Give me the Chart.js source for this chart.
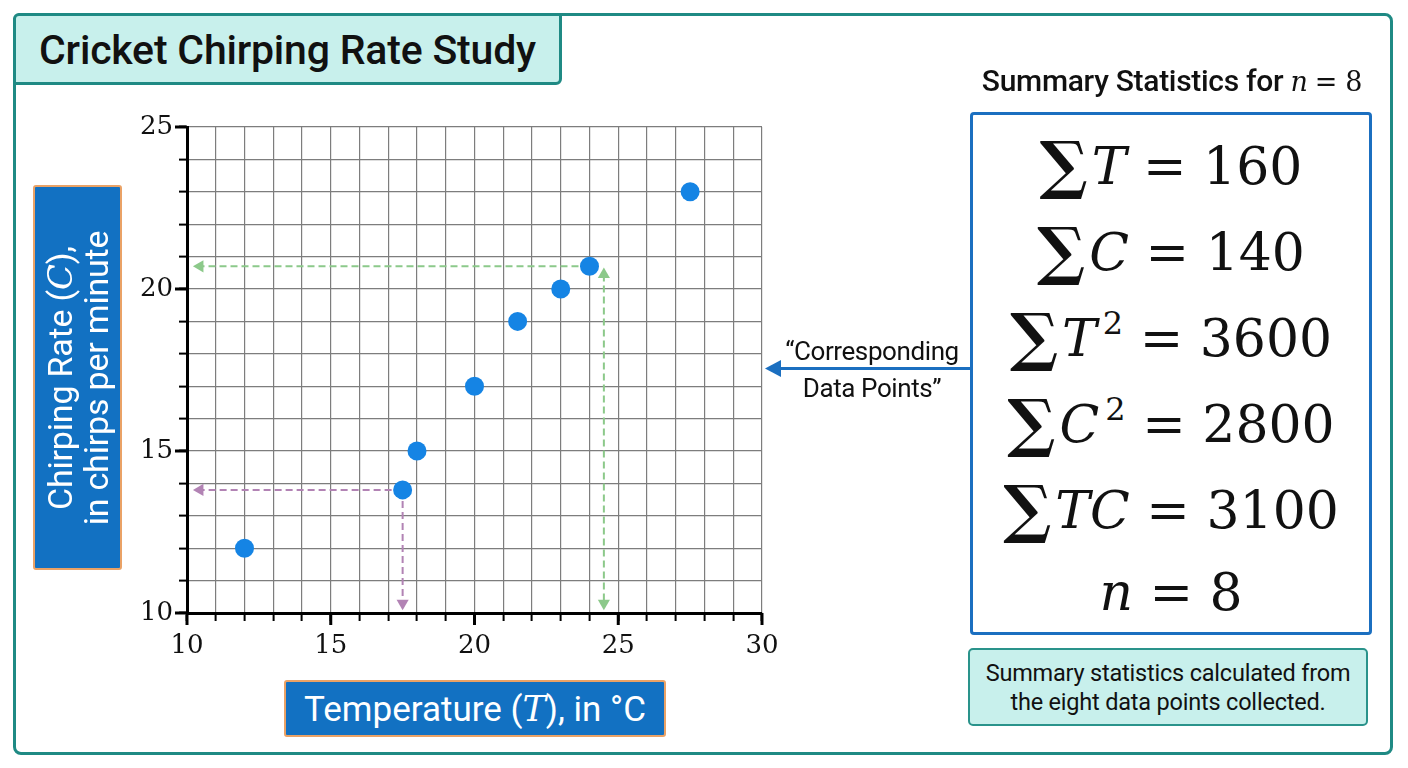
<!DOCTYPE html>
<html>
<head>
<meta charset="utf-8">
<script src="https://cdn.jsdelivr.net/npm/chart.js@4.4.1/dist/chart.umd.min.js"></script>
<style>
  html, body { margin: 0; padding: 0; background: #ffffff; }
  body { width: 1408px; height: 768px; position: relative; overflow: hidden; font-family: Roboto, "Noto Sans", sans-serif; }
  #frame { position: absolute; left: 13px; top: 13px; width: 1374px; height: 736px; border: 3px solid #1f8a84; border-radius: 8px; }
  #title { position: absolute; left: 13px; top: 13px; width: 543px; height: 66px; background: #c8f0ec; border: 3px solid #1f8a84; border-radius: 6px 0 6px 0;
           font-size: 41px; font-weight: 500; color: #111; line-height: 68px; text-align: center; white-space: nowrap; letter-spacing: -0.2px; }
  #chartWrap { position: absolute; left: 0; top: 0; width: 1408px; height: 768px; }
  #ylab { position: absolute; left: 33px; top: 185px; width: 85px; height: 381px; background: #1271c2; border: 2px solid #eaa266; border-radius: 3px; }
  #ylab div { position: absolute; left: 50%; top: 50%; width: 381px; transform: translate(-50%, -50%) rotate(-90deg);
              color: #fff; font-size: 34px; line-height: 36px; text-align: center; white-space: nowrap; letter-spacing: -0.2px; }
  #xlab { position: absolute; left: 284px; top: 680px; width: 378px; height: 53px; background: #1271c2; border: 2px solid #eaa266; border-radius: 3px;
          color: #fff; font-size: 35px; line-height: 55px; text-align: center; white-space: nowrap; }
  .m { font-family: "DejaVu Serif", "Liberation Serif", serif; font-style: italic; }
  #sumHead { position: absolute; left: 940px; top: 63px; width: 464px; text-align: center; font-size: 30px; font-weight: 500; color: #111; white-space: nowrap; letter-spacing: -0.3px; }
  #sumHead .m { font-weight: normal; font-size: 27px; }
  #sumHead .r { font-family: "DejaVu Serif", serif; font-weight: normal; font-size: 27px; }
  #sumBox { position: absolute; left: 970px; top: 112px; width: 396px; height: 517px; border: 3px solid #1b6fc0; border-radius: 4px; background: #fff;
            box-sizing: content-box; }
  .eq { position: absolute; left: 0; width: 396px; text-align: center; font-family: "DejaVu Serif", "Liberation Serif", serif; font-size: 52px; color: #111;
        white-space: nowrap; line-height: 80px; height: 80px; }
  .eq .sig { font-style: normal; font-size: 64px; position: relative; top: 3px; margin-right: 4px; font-weight: bold; }
  .eq i { font-style: italic; }
  .eq sup { font-size: 32px; vertical-align: 0; position: relative; top: -22px; margin-left: 6px; }
  #note { position: absolute; left: 968px; top: 648px; width: 396px; height: 74px; background: #c8f0ec; border: 2px solid #2a938b; border-radius: 5px;
          font-size: 23.5px; line-height: 29px; text-align: center; color: #111; box-sizing: content-box; white-space: nowrap; letter-spacing: -0.2px; }
  #note div { padding-top: 9px; }
  #corr { position: absolute; left: 762px; top: 333px; width: 220px; text-align: center; font-size: 26px; line-height: 37px; color: #111; white-space: nowrap; letter-spacing: -0.4px; }
  #arrow { position: absolute; left: 0; top: 0; }
</style>
</head>
<body>
<div id="frame"></div>
<div id="title">Cricket Chirping Rate Study</div>

<div id="chartWrap"><canvas id="scatter_graph" width="1408" height="768"></canvas></div>

<div id="ylab"><div>Chirping Rate (<span class="m">C</span>),<br>in chirps per minute</div></div>
<div id="xlab">Temperature (<span class="m">T</span>), in °C</div>

<div id="sumHead">Summary Statistics for <span class="m">n</span> <span class="r">= 8</span></div>
<div id="sumBox"></div>
<div id="note"><div>Summary statistics calculated from<br>the eight data points collected.</div></div>

<div id="corr">“Corresponding<br>Data Points”</div>
<svg id="arrow" width="1408" height="768">
  <line x1="970" y1="368.5" x2="778" y2="368.5" stroke="#1b6fc0" stroke-width="3"></line>
  <polygon points="765,368.5 781,360 781,377" fill="#1b6fc0"></polygon>
</svg>

<script>
// data
const temps  = [12, 17.5, 18, 20, 21.5, 23, 24, 27.5];
const rates  = [12, 13.8, 15, 17, 19, 20, 20.7, 23];

const x_min = 10, x_max = 30;
const y_min = 10, y_max = 25;
const label_every = 5;

// guide lines (dashed, with arrow ends)
const green_h  = [[24, 20.7], [10.45, 20.7]];
const green_v  = [[24.5, 20.45], [24.5, 10.3]];
const purple_h = [[17.5, 13.8], [10.45, 13.8]];
const purple_v = [[17.5, 13.8], [17.5, 10.3]];

// summary statistics
const sum_labels = [
    '<span class="sig">∑</span><i>T</i> = 160',
    '<span class="sig">∑</span><i>C</i> = 140',
    '<span class="sig">∑</span><i>T</i><sup>2</sup> = 3600',
    '<span class="sig">∑</span><i>C</i><sup>2</sup> = 2800',
    '<span class="sig">∑</span><i>TC</i> = 3100',
    '<i>n</i> = 8'
];

let box = document.getElementById("sumBox");
for (let i = 0; i < sum_labels.length; i++){
    let div = document.createElement("div");
    div.className = "eq";
    div.style.top = (7 + i * 86) + "px";
    div.innerHTML = sum_labels[i];
    box.appendChild(div);
}

function to_points(pairs){
    let pts = [];
    for (let p of pairs){
        pts.push({x: p[0], y: p[1]});
    }
    return pts;
}

let points = [];
for (let i = 0; i < temps.length; i++){
    points.push({x: temps[i], y: rates[i]});
}

function guide(pairs, color, rotations, radii){
    return {
        data: to_points(pairs),
        showLine: true,
        borderColor: color,
        backgroundColor: color,
        borderWidth: 2,
        borderDash: [7, 4],
        pointStyle: "triangle",
        pointRadius: radii,
        pointRotation: rotations,
        pointBorderWidth: 0,
        clip: false,
        order: 2
    };
}

const major_ticks = {
    id: "major_ticks",
    afterDraw(chart){
        const ctx = chart.ctx;
        const xs = chart.scales.x, ys = chart.scales.y;
        ctx.save();
        ctx.strokeStyle = "#000";
        ctx.lineWidth = 3;
        for (let v = x_min; v <= x_max; v += label_every){
            let px = xs.getPixelForValue(v);
            ctx.beginPath();
            ctx.moveTo(px, ys.bottom);
            ctx.lineTo(px, ys.bottom + 12);
            ctx.stroke();
        }
        for (let v = y_min; v <= y_max; v += label_every){
            let py = ys.getPixelForValue(v);
            ctx.beginPath();
            ctx.moveTo(xs.left, py);
            ctx.lineTo(xs.left - 12, py);
            ctx.stroke();
        }
        ctx.restore();
    }
};

const tick_font = {family: "'DejaVu Serif', 'Liberation Serif', serif", size: 26};

const ctx = document.getElementById("scatter_graph").getContext("2d");
const myChart = new Chart(ctx, {
    type: "scatter",
    data: {
        datasets: [
            {
                data: points,
                backgroundColor: "#1584e4",
                borderWidth: 0,
                pointRadius: 9.5,
                pointHoverRadius: 9.5,
                clip: false,
                order: 0
            },
            guide(green_h,  "#8cc98a", [0, 270], [0, 7]),
            guide(green_v,  "#8cc98a", [0, 180], [7, 7]),
            guide(purple_h, "#b283b4", [0, 270], [0, 7]),
            guide(purple_v, "#b283b4", [0, 180], [0, 7])
        ]
    },
    plugins: [major_ticks],
    options: {
        responsive: false,
        animation: false,
        events: [],
        layout: {
            padding: {left: 130, top: 127, right: 646, bottom: 95}
        },
        scales: {
            x: {
                type: "linear",
                min: x_min,
                max: x_max,
                afterFit(scale){ scale.height = 60; },
                border: {color: "#000", width: 3},
                grid: {
                    color: "#7d7d7d",
                    lineWidth: 1.2,
                    tickColor: "#000",
                    tickWidth: 2,
                    tickLength: 8
                },
                ticks: {
                    stepSize: 1,
                    autoSkip: false,
                    maxRotation: 0,
                    padding: 10,
                    color: "#111",
                    font: tick_font,
                    callback: (v) => (v % label_every === 0 ? v : "")
                }
            },
            y: {
                type: "linear",
                min: y_min,
                max: y_max,
                afterFit(scale){ scale.width = 57; },
                border: {color: "#000", width: 3},
                grid: {
                    color: "#7d7d7d",
                    lineWidth: 1.2,
                    tickColor: "#000",
                    tickWidth: 2,
                    tickLength: 8
                },
                ticks: {
                    stepSize: 1,
                    autoSkip: false,
                    padding: 6,
                    color: "#111",
                    font: tick_font,
                    callback: (v) => (v % label_every === 0 ? v : "")
                }
            }
        },
        plugins: {
            legend: {display: false},
            tooltip: {enabled: false}
        }
    }
});
</script>
</body>
</html>
